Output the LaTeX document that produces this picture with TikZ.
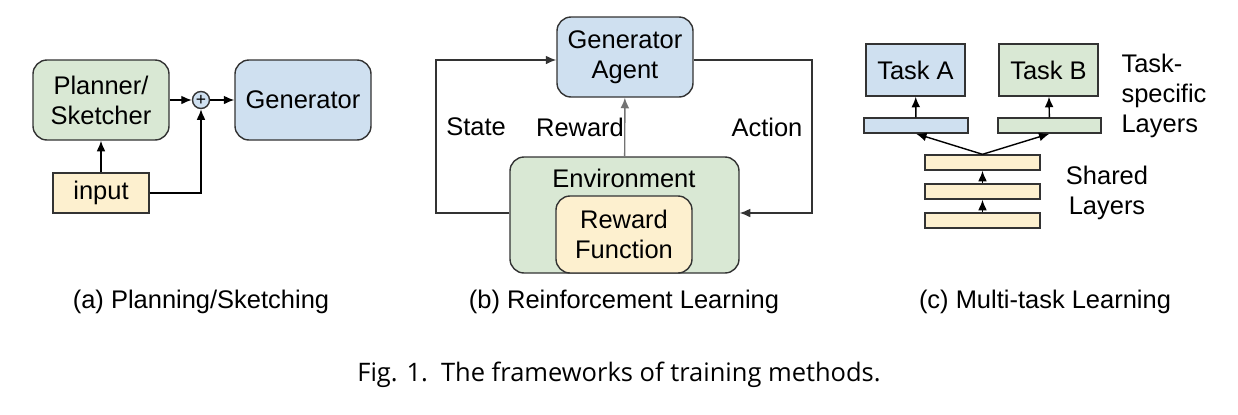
\documentclass[tikz,border=0pt]{standalone}
\usepackage{fontspec}
\setmainfont{Liberation Sans}
\newfontfamily\capfont{Open Sans}
\usetikzlibrary{arrows.meta}
\definecolor{cgreen}{HTML}{D9E8D4}
\definecolor{cblue}{HTML}{CFE0F0}
\definecolor{cyellow}{HTML}{FDF0CF}
\tikzset{
  box/.style={draw=black!80, thick, font=\fontsize{14.5}{17}\selectfont, align=center, inner sep=0pt},
  rbox/.style={box, rounded corners=8pt},
  arr/.style={-{Latex[length=6pt,width=5pt]}, thick},
  garr/.style={-{Latex[length=6pt,width=5pt]}, thick, black!55},
  lbl/.style={font=\fontsize{14.5}{17}\selectfont, align=center},
}
\begin{document}
\begin{tikzpicture}[x=0.02cm, y=-0.02cm]
\useasboundingbox (0,0) rectangle (1238,414);

% (a) planning / sketching
\node[rbox, fill=cgreen, minimum width=136*0.02cm, minimum height=80*0.02cm] (planner) at (101,100) {Planner/\\Sketcher};
\node[draw=black!80, thick, fill=cblue, circle, minimum size=17*0.02cm, inner sep=0pt, font=\normalsize] (plus) at (201,100) {+};
\node[rbox, fill=cblue, minimum width=136*0.02cm, minimum height=80*0.02cm] (gen) at (303,100) {Generator};
\node[box, fill=cyellow, minimum width=96*0.02cm, minimum height=40*0.02cm] (input) at (101,193) {input};
\draw[arr] (planner) -- (plus);
\draw[arr] (plus) -- (gen);
\draw[arr] (input) -- (planner);
\draw[arr] (input.east) -| (plus.south);

% (b) reinforcement learning
\node[rbox, fill=cblue, minimum width=136*0.02cm, minimum height=80*0.02cm] (agent) at (625,57) {Generator\\Agent};
\node[rbox, fill=cgreen, minimum width=229*0.02cm, minimum height=116*0.02cm] (env) at (624.5,215) {};
\node[lbl] at (624,178) {Environment};
\node[rbox, fill=cyellow, minimum width=136*0.02cm, minimum height=77*0.02cm] (rfun) at (624,234.5) {Reward\\Function};
\coordinate (sl) at (436,213);
\coordinate (ar) at (812,213);
\draw[garr] (env) -- (agent);
\node[lbl] at (580,127) {Reward};
\draw[garr, black!80] (env.west |- sl) -- (sl) |- (agent.west |- 0,60);
\draw[garr, black!80] (agent.east |- 0,60) -| (ar) -- (env.east |- ar);
\node[lbl] at (476,127) {State};
\node[lbl] at (767,127) {Action};

% (c) multi-task learning
\node[box, fill=cblue, minimum width=99*0.02cm, minimum height=52*0.02cm] (taskA) at (915.5,70) {Task A};
\node[box, fill=cgreen, minimum width=99*0.02cm, minimum height=52*0.02cm] (taskB) at (1048.5,70) {Task B};
\node[box, fill=cblue, minimum width=104*0.02cm, minimum height=15*0.02cm] (layA) at (916,125.5) {};
\node[box, fill=cgreen, minimum width=103*0.02cm, minimum height=15*0.02cm] (layB) at (1049.5,125.5) {};
\foreach \i/\y in {1/162.5, 2/191.5, 3/220.5}
  \node[box, fill=cyellow, minimum width=115*0.02cm, minimum height=15*0.02cm] (sh\i) at (982.5,\y) {};
\draw[arr] (layA) -- (taskA);
\draw[arr] (layB) -- (taskB);
\draw[arr] (sh1.north) -- (layA.south);
\draw[arr] (sh1.north) -- (layB.south);
\draw[arr] (sh3) -- (sh2);
\draw[arr] (sh2) -- (sh1);
\node[lbl, align=left] at (1164,96) {Task-\\specific\\Layers};
\node[lbl] at (1107,193) {Shared\\Layers};

% captions
\node[lbl] at (201,302) {(a) Planning/Sketching};
\node[lbl] at (624,302) {(b) Reinforcement Learning};
\node[lbl] at (1045,302) {(c) Multi-task Learning};
\node[font=\capfont\fontsize{14.5}{17}\selectfont] at (619,375) {Fig. 1.\ \ The frameworks of training methods.};
\end{tikzpicture}
\end{document}
